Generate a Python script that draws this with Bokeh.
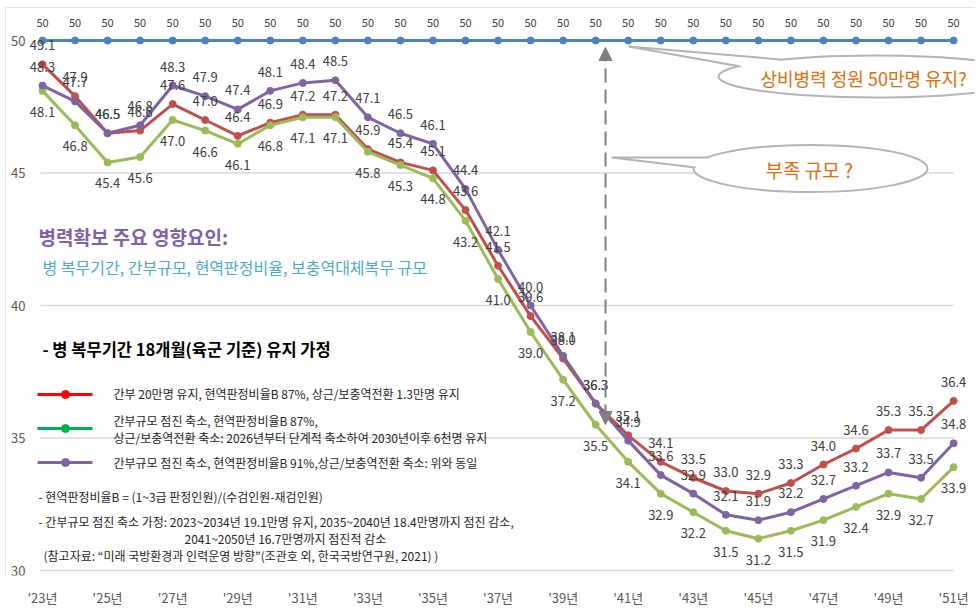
from bokeh.plotting import figure
from bokeh.models import FixedTicker, Arrow, NormalHead, Range1d, LabelSet, ColumnDataSource
from bokeh.core.properties import value
from bokeh.embed import file_html
from bokeh.resources import INLINE

# ---------------- data ----------------
years = list(range(23, 52))
x_tick_years = list(range(23, 52, 2))
x_tick_labels = ["'%d년" % y for y in x_tick_years]
y_ticks = [30, 35, 40, 45, 50]
y_tick_labels = ["%d" % v for v in y_ticks]

target_50 = [50] * 29
red_vals = [49.1, 47.9, 46.5, 46.6, 47.6, 47.0, 46.4, 46.9, 47.2, 47.2, 45.9, 45.4, 45.1, 43.6, 41.5,
            39.6, 38.0, 36.3, 35.1, 34.1, 33.5, 33.0, 32.9, 33.3, 34.0, 34.6, 35.3, 35.3, 36.4]
green_vals = [48.1, 46.8, 45.4, 45.6, 47.0, 46.6, 46.1, 46.8, 47.1, 47.1, 45.8, 45.3, 44.8, 43.2, 41.0,
              39.0, 37.2, 35.5, 34.1, 32.9, 32.2, 31.5, 31.2, 31.5, 31.9, 32.4, 32.9, 32.7, 33.9]
purple_vals = [48.3, 47.7, 46.5, 46.8, 48.3, 47.9, 47.4, 48.1, 48.4, 48.5, 47.1, 46.5, 46.1, 44.4, 42.1,
               40.0, 38.1, 36.3, 34.9, 33.6, 32.9, 32.1, 31.9, 32.2, 32.7, 33.2, 33.7, 33.5, 34.8]

legend_red = "간부 20만명 유지, 현역판정비율B 87%, 상근/보충역전환 1.3만명 유지"
legend_green_1 = "간부규모 점진 축소, 현역판정비율B 87%,"
legend_green_2 = "상근/보충역전환 축소: 2026년부터 단계적 축소하여 2030년이후 6천명 유지"
legend_purple = "간부규모 점진 축소, 현역판정비율B 91%,상근/보충역전환 축소: 위와 동일"

FONT = value("Noto Sans CJK KR")
C_BLUE = "#4F81BD"
C_RED = "#C0504D"
C_GREEN = "#9BBB59"
C_PURPLE = "#8064A2"
C_LBL = "#404040"
C_ORANGE = "#E46C0A"
C_BUBBLE = "#B4B4B4"


# helpers: reference-pixel -> data coordinates (for annotations only)
def X(px):
    return 23 + (px - 42) / 32.54


def Y(py):
    return 50 - (py - 40) / 26.5


p = figure(width=976, height=610, output_backend="svg", toolbar_location=None,
           x_range=Range1d(X(0), X(974)), y_range=Range1d(Y(575), Y(0)),
           min_border_left=0, min_border_right=2, min_border_top=0, min_border_bottom=35)
p.outline_line_color = None
p.xgrid.visible = False
p.ygrid.visible = False
p.background_fill_color = "white"

# faint chart-area border (top and left edges visible in the reference)
p.line([X(5), X(5), X(976)], [Y(610), Y(7), Y(7)], line_color="#E4E4E4", line_width=1)

# x axis (library axis)
p.xaxis.ticker = FixedTicker(ticks=x_tick_years)
p.xaxis.major_label_overrides = {y: l for y, l in zip(x_tick_years, x_tick_labels)}
p.xaxis.axis_line_color = None
p.xaxis.major_tick_line_color = None
p.xaxis.minor_tick_line_color = None
p.xaxis.major_label_text_font = "Noto Sans CJK KR"
p.xaxis.major_label_text_font_size = "13px"
p.xaxis.major_label_text_color = "#595959"
p.xaxis.major_label_standoff = 6
# y axis hidden so the frame reaches the left edge; its tick labels are drawn at the tick values
p.yaxis.visible = False
p.text([X(25)] * len(y_ticks), y_ticks, text=y_tick_labels, text_align="right", text_baseline="middle",
       text_font=FONT, text_font_size="13px", text_color="#595959")

# gridlines
p.segment(x0=[X(40)] * len(y_ticks), x1=[years[-1]] * len(y_ticks), y0=y_ticks, y1=y_ticks,
          line_color="#D9D9D9", line_width=1.5)

# series
series = [(target_50, C_BLUE), (red_vals, C_RED), (green_vals, C_GREEN), (purple_vals, C_PURPLE)]
for vals, col in series:
    p.line(years, vals, line_color=col, line_width=3)
    p.scatter(years, vals, size=7, fill_color=col, line_color=col)


# data labels
def labels(vals, fmt, dy, size):
    src = ColumnDataSource(dict(x=years, y=vals, t=[fmt % v for v in vals]))
    p.add_layout(LabelSet(x="x", y="y", text="t", source=src, y_offset=dy, text_align="center",
                          text_baseline="middle", text_font=FONT, text_font_size=value(size),
                          text_color=C_LBL))


labels(target_50, "%d", 18, "11px")
labels(red_vals, "%.1f", 19, "13px")
labels(purple_vals, "%.1f", 19, "13px")
labels(green_vals, "%.1f", -21, "13px")

# dashed double arrow
p.add_layout(Arrow(x_start=X(605), y_start=Y(47), x_end=X(605), y_end=Y(424),
                   line_color="#7F7F7F", line_width=2, line_dash="14 7",
                   start=NormalHead(size=13, fill_color="#7F7F7F", line_color="#7F7F7F"),
                   end=NormalHead(size=13, fill_color="#7F7F7F", line_color="#7F7F7F")))


def bubble(cx, cy, w, h, tip, b1, b2, inner, text, text_x, size):
    p.ellipse(x=[X(cx)], y=[Y(cy)], width=w, height=h, width_units="screen", height_units="screen",
              fill_color="white", line_color=C_BUBBLE, line_width=2)
    xs = [X(tip[0]), X(b1[0]), X(inner[0]), X(b2[0])]
    ys = [Y(tip[1]), Y(b1[1]), Y(inner[1]), Y(b2[1])]
    p.patch(xs, ys, fill_color="white", line_color=None)
    p.line([X(b1[0]), X(tip[0]), X(b2[0])], [Y(b1[1]), Y(tip[1]), Y(b2[1])],
           line_color=C_BUBBLE, line_width=2)
    p.text([X(text_x)], [Y(cy + 1)], text=[text], text_align="left", text_baseline="middle",
           text_font=FONT, text_font_size=size, text_color=C_ORANGE)


bubble(875, 76, 314, 42, (628, 46), (780, 59), (740, 66), (770, 70), "상비병력 정원 50만명 유지?", 760, "18px")
bubble(810, 168, 234, 47, (611, 157), (708, 157), (695, 167), (715, 164), "부족 규모 ?", 765, "19px")

# headings
p.text([X(38)], [Y(236)], text=["병력확보 주요 영향요인:"], text_align="left", text_baseline="middle",
       text_font=FONT, text_font_size="19px", text_font_style="bold", text_color="#8062A6")
p.text([X(42)], [Y(266)], text=["병 복무기간, 간부규모, 현역판정비율, 보충역대체복무 규모"], text_align="left",
       text_baseline="middle", text_font=FONT, text_font_size="16px", text_color="#4BACC6")
p.text([X(42)], [Y(348)], text=["-  병 복무기간 18개월(육군 기준) 유지 가정"], text_align="left",
       text_baseline="middle", text_font=FONT, text_font_size="16.5px", text_font_style="bold",
       text_color="#000000")

# custom legend
leg = [("#FF0000", 394, [(legend_red, 393)]),
       ("#00B050", 428, [(legend_green_1, 420), (legend_green_2, 437)]),
       (C_PURPLE, 462, [(legend_purple, 462)])]
for col, ly, texts in leg:
    p.line([X(37), X(92)], [Y(ly), Y(ly)], line_color=col, line_width=3)
    p.scatter([X(65)], [Y(ly)], size=8, fill_color=col, line_color=col)
    for t, ty in texts:
        p.text([X(113)], [Y(ty)], text=[t], text_align="left", text_baseline="middle",
               text_font=FONT, text_font_size="12px", text_color="#262626")

notes = [("- 현역판정비율B = (1~3급 판정인원)/(수검인원-재검인원)", 38, 496),
         ("- 간부규모 점진 축소 가정: 2023~2034년 19.1만명 유지, 2035~2040년 18.4만명까지 점진 감소,", 38, 521),
         ("2041~2050년 16.7만명까지 점진적 감소", 184, 538),
         ("(참고자료: “미래 국방환경과 인력운영 방향”(조관호 외, 한국국방연구원, 2021) )", 43, 555)]
for t, nx, ny in notes:
    p.text([X(nx)], [Y(ny)], text=[t], text_align="left", text_baseline="middle",
           text_font=FONT, text_font_size="12px", text_color="#262626")

open("out.html", "w").write(file_html(p, INLINE))
